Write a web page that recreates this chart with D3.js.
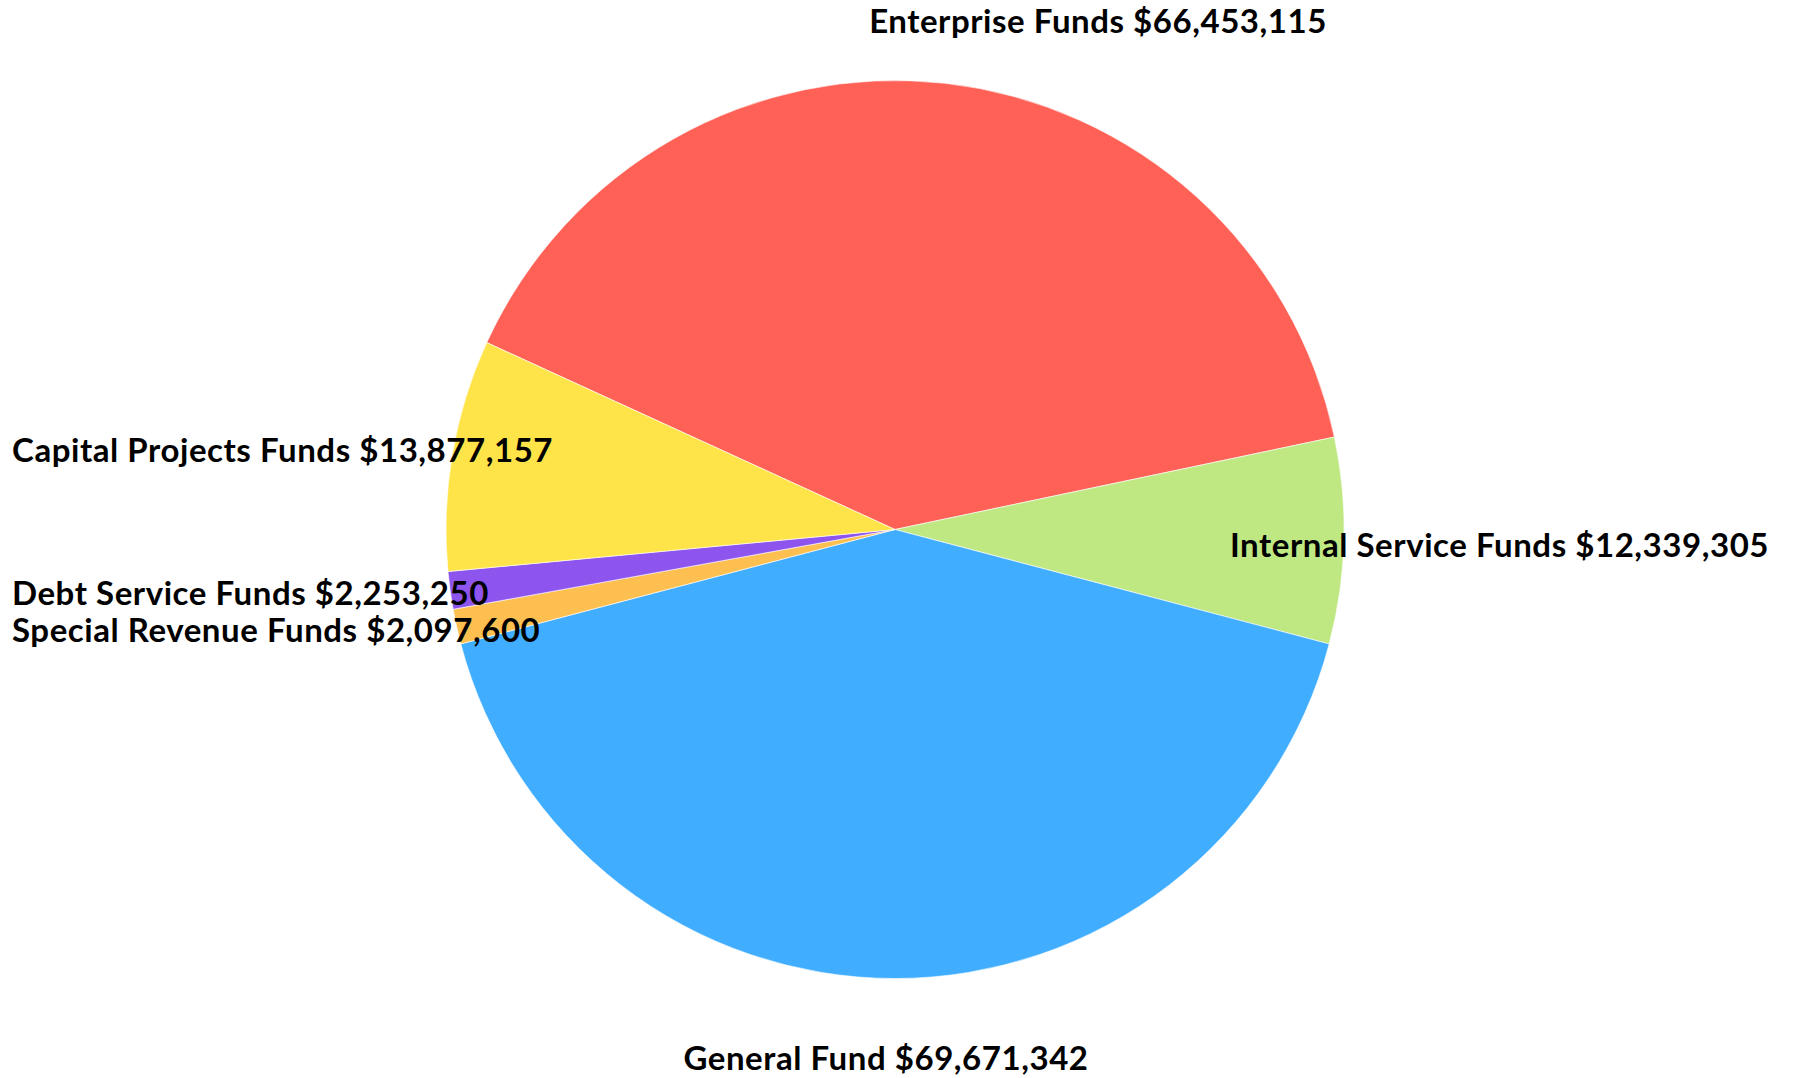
<!DOCTYPE html>
<html>
<head>
<meta charset="utf-8">
<script src="https://cdn.jsdelivr.net/npm/d3@7"></script>
<style>
  html, body { margin: 0; padding: 0; background: #ffffff; }
  svg { display: block; }
  .label { font-family: Lato, "Open Sans", sans-serif; font-weight: 700; fill: #000; letter-spacing: 0.55px; }
</style>
</head>
<body>
<svg id="chart" width="1793" height="1078"></svg>
<script>
// Fund budget totals, listed clockwise from the Enterprise Funds slice
const funds = [
  "Enterprise Funds",
  "Internal Service Funds",
  "General Fund",
  "Special Revenue Funds",
  "Debt Service Funds",
  "Capital Projects Funds"
];
const amounts = [66453115, 12339305, 69671342, 2097600, 2253250, 13877157];
const colors = ["#FF6157", "#BFE883", "#40ADFF", "#FCBF50", "#8E54EE", "#FFE449"];

const width = 1793, height = 1078;
const cx = 895, cy = 529.5, radius = 449;

// Label anchor for each slice: x, baseline y, text-anchor
const labelLayout = {
  "Enterprise Funds":       { x: 1098, y: 33,   anchor: "middle" },
  "Internal Service Funds": { x: 1230, y: 557,  anchor: "start" },
  "General Fund":           { x: 886,  y: 1070, anchor: "middle" },
  "Special Revenue Funds":  { x: 12,   y: 642,  anchor: "start" },
  "Debt Service Funds":     { x: 12,   y: 605,  anchor: "start" },
  "Capital Projects Funds": { x: 12,   y: 462,  anchor: "start" }
};

const data = funds.map((name, i) => ({ name, value: amounts[i], color: colors[i] }));

const pie = d3.pie()
  .sort(null)
  .value(d => d.value)
  .startAngle(-65.4 * Math.PI / 180)
  .endAngle((360 - 65.4) * Math.PI / 180);

const arc = d3.arc().innerRadius(0).outerRadius(radius);

const svg = d3.select("#chart");
const g = svg.append("g").attr("transform", `translate(${cx},${cy})`);

g.selectAll("path")
  .data(pie(data))
  .join("path")
  .attr("d", arc)
  .attr("fill", d => d.data.color)
  .attr("stroke", "#ffffff")
  .attr("stroke-width", 0.6)
  .attr("stroke-linejoin", "round");

const fmt = d3.format("$,");

svg.append("g")
  .selectAll("text")
  .data(data)
  .join("text")
  .attr("class", "label")
  .attr("x", d => labelLayout[d.name].x)
  .attr("y", d => labelLayout[d.name].y)
  .attr("text-anchor", d => labelLayout[d.name].anchor)
  .attr("font-size", 33)
  .text(d => `${d.name} ${fmt(d.value)}`);
</script>
</body>
</html>
